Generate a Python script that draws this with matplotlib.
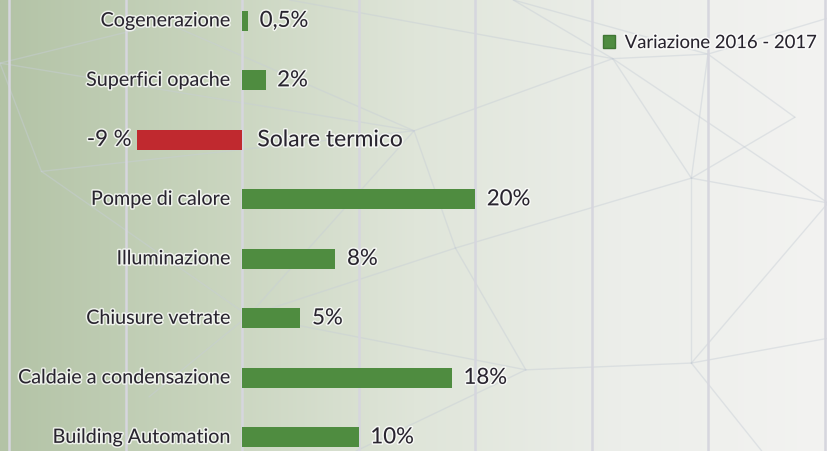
import numpy as np
import matplotlib
matplotlib.use("Agg")
import matplotlib.pyplot as plt
from matplotlib.patches import Patch
from matplotlib.colors import LinearSegmentedColormap
import matplotlib.patheffects as pe

# Data
categories = ["Cogenerazione", "Superfici opache", "Solare termico", "Pompe di calore",
              "Illuminazione", "Chiusure vetrate", "Caldaie a condensazione",
              "Building Automation"]
values = [0.5, 2, -9, 20, 8, 5, 18, 10]
value_labels = ["0,5%", "2%", "-9 %", "20%", "8%", "5%", "18%", "10%"]
legend_label = "Variazione 2016 - 2017"

GREEN = "#4f8c40"
RED = "#c0292f"
TEXT = "#28242e"
FONT = "Lato"

fig = plt.figure(figsize=(8.28, 4.51), dpi=100)
ax = fig.add_axes([0, 0, 1, 1])

xmin, xmax = -20.8, 50.3
ymin, ymax = 7.23, -0.35
ax.set_xlim(xmin, xmax)
ax.set_ylim(ymin, ymax)

# Background: green-to-grey horizontal gradient
bg = LinearSegmentedColormap.from_list(
    "bg", ["#b3c3a6", "#c8d4bd", "#dfe5d9", "#eceeea", "#f3f3f1"])
grad = np.linspace(0, 1, 512).reshape(1, -1)
ax.imshow(grad, cmap=bg, aspect="auto", extent=[xmin, xmax, ymin, ymax],
          zorder=0, interpolation="bicubic")

# Faint polygon web in the background (axes-fraction coordinates)
web_nodes = {
    "a": (0.74, 0.87), "b": (0.855, 0.88), "c": (0.50, 0.71), "d": (0.835, 0.605),
    "e": (0.635, 0.18), "f": (0.835, 0.195), "g": (0.05, 0.62), "h": (0.20, 0.95),
    "i": (0.30, 0.30), "j": (1.0, 0.55), "k": (0.62, 1.0), "l": (1.0, 0.96),
    "m": (0.43, 0.0), "n": (1.0, 0.25), "o": (0.18, 0.12), "p": (0.96, 0.74),
    "q": (0.35, 1.0), "r": (0.0, 0.86), "s": (0.55, 0.45), "t": (0.92, 0.0),
}
web_edges = ["ab", "ac", "ak", "aq", "ad", "bl", "bp", "bd", "bk", "cg", "ch", "ci",
             "cs", "dj", "dp", "df", "ds", "ef", "em", "es", "fn", "ft", "fj",
             "gr", "gi", "io", "is", "hr", "ei", "aj", "cr"]
for e in web_edges:
    (x0, y0), (x1, y1) = web_nodes[e[0]], web_nodes[e[1]]
    ax.plot([x0, x1], [y0, y1], transform=ax.transAxes, color="#c7ced6",
            lw=1.0, alpha=0.45, zorder=0.5, solid_capstyle="round")

# Vertical gridlines every 10%
for gx in range(-20, 51, 10):
    ax.axvline(gx, color="#d6d6de", lw=1.8, zorder=1)

y = np.arange(len(categories))
colors = [GREEN if v >= 0 else RED for v in values]
ax.barh(y, values, height=0.34, color=colors, zorder=2)

halo = [pe.withStroke(linewidth=2.2, foreground=(1, 1, 1, 0.75))]
pad = 1.0
for yi, cat, v, lab in zip(y, categories, values, value_labels):
    if v >= 0:
        ax.text(-pad, yi, cat, ha="right", va="center", fontsize=14.2,
                color=TEXT, family=FONT, path_effects=halo, zorder=3)
        ax.text(v + pad, yi, lab, ha="left", va="center", fontsize=16,
                color=TEXT, family=FONT, path_effects=halo, zorder=3)
    else:
        ax.text(pad * 1.3, yi, cat, ha="left", va="center", fontsize=16.5,
                color=TEXT, family=FONT, path_effects=halo, zorder=3)
        ax.text(v - 0.5, yi, lab, ha="right", va="center", fontsize=16,
                color=TEXT, family=FONT, path_effects=halo, zorder=3)

leg = ax.legend(handles=[Patch(facecolor=GREEN, edgecolor="#3f7533", label=legend_label)],
                loc="upper left", bbox_to_anchor=(0.711, 0.955), frameon=False,
                handlelength=0.65, handleheight=0.65, handletextpad=0.5,
                borderpad=0.3, prop={"family": FONT, "size": 13.3})
for t in leg.get_texts():
    t.set_color(TEXT)
    t.set_path_effects(halo)

ax.axis("off")
fig.savefig("out.png", dpi=100)
